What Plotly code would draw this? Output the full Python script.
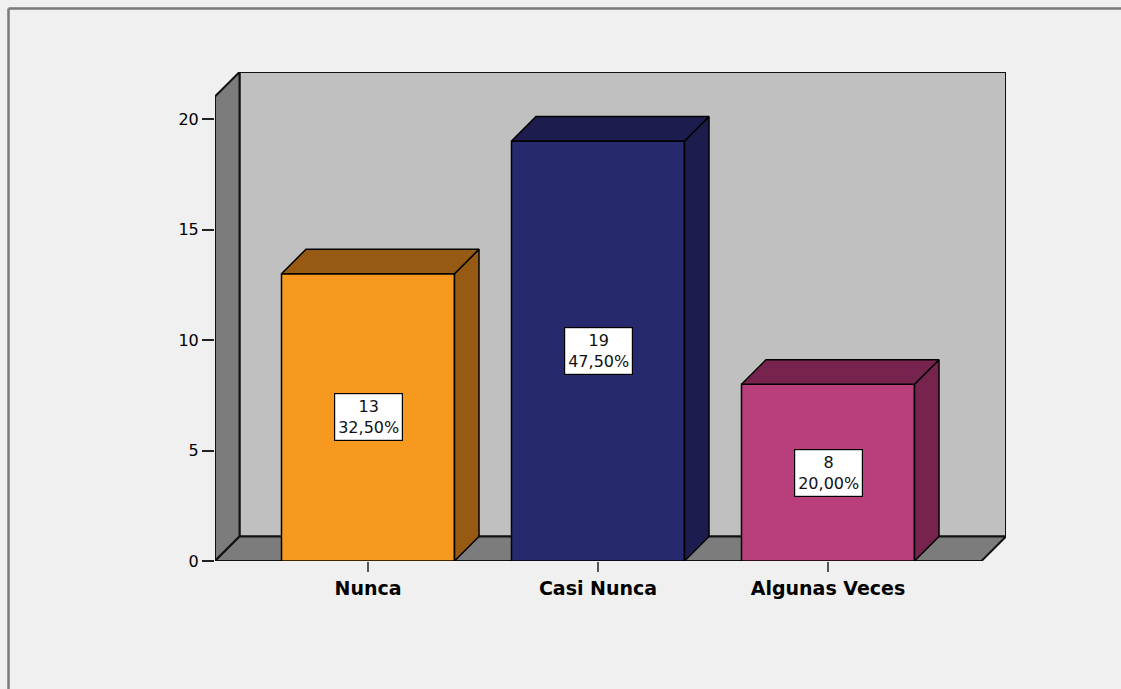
import plotly.graph_objects as go

# ---- data ----
categories = ["Nunca", "Casi Nunca", "Algunas Veces"]
counts = [13, 19, 8]
percents = ["32,50%", "47,50%", "20,00%"]
y_ticks = [0, 5, 10, 15, 20]

front_colors = ["#F8991F", "#27296F", "#B93E7C"]
side_colors = ["#965A12", "#1C1D4E", "#76244D"]

# ---- layout geometry ----
W, H = 1121, 689
ml, mr, mt, mb = 215, 115, 72, 128
pw, ph = W - ml - mr, H - mt - mb
px_per_cat = 230.0
px_per_unit = 22.1
x0 = -(368 - ml) / px_per_cat
x1 = x0 + pw / px_per_cat
y1 = ph / px_per_unit
depth_px = 24.5
dx = depth_px / px_per_cat
dy = depth_px / px_per_unit
bw = 173 / px_per_cat

xs = list(range(len(categories)))

fig = go.Figure()

# front faces
fig.add_trace(go.Bar(
    x=xs, y=counts, width=bw,
    marker=dict(color=front_colors, line=dict(color="black", width=1.5)),
    hoverinfo="skip", showlegend=False,
))

# side and top faces
for i, v in enumerate(counts):
    l, r = i - bw / 2, i + bw / 2
    fig.add_trace(go.Scatter(
        x=[r, r + dx, r + dx, r, r], y=[0, dy, v + dy, v, 0],
        mode="lines", fill="toself", fillcolor=side_colors[i],
        line=dict(color="black", width=1.5), hoverinfo="skip", showlegend=False))
    fig.add_trace(go.Scatter(
        x=[l, l + dx, r + dx, r, l], y=[v, v + dy, v + dy, v, v],
        mode="lines", fill="toself", fillcolor=side_colors[i],
        line=dict(color="black", width=1.5), hoverinfo="skip", showlegend=False))

# walls
wall_line = dict(color="#111111", width=2)
shapes = [
    dict(type="rect", xref="x", yref="y", x0=x0 + dx, x1=x1, y0=dy, y1=y1,
         fillcolor="#C0C0C0", line=wall_line, layer="below"),
    dict(type="path", xref="x", yref="y",
         path=f"M {x0},0 L {x0},{y1 - dy} L {x0 + dx},{y1} L {x0 + dx},{dy} Z",
         fillcolor="#7C7C7C", line=wall_line, layer="below"),
    dict(type="path", xref="x", yref="y",
         path=f"M {x0},0 L {x0 + dx},{dy} L {x1},{dy} L {x1 - dx},0 Z",
         fillcolor="#7C7C7C", line=wall_line, layer="below"),
    # outer frame (left and top)
    dict(type="line", xref="paper", yref="paper",
         x0=(8.5 - ml) / pw, x1=(8.5 - ml) / pw, y0=(H - mb - 8.5) / ph, y1=-(mb + 5) / ph,
         line=dict(color="#7A7A7A", width=2.5)),
    dict(type="line", xref="paper", yref="paper",
         x0=(8.5 - ml) / pw, x1=(W + 5 - ml) / pw, y0=(H - mb - 8.5) / ph, y1=(H - mb - 8.5) / ph,
         line=dict(color="#7A7A7A", width=2.5)),
]

annotations = []
for i, v in enumerate(counts):
    annotations.append(dict(
        x=i, y=v / 2, xref="x", yref="y",
        text=f"{v}<br>{percents[i]}", showarrow=False,
        font=dict(family="DejaVu Sans", size=16, color="#111111"),
        bgcolor="white", bordercolor="black", borderwidth=1.2, borderpad=3,
    ))

fig.update_layout(
    width=W, height=H,
    margin=dict(l=ml, r=mr, t=mt, b=mb, pad=0),
    paper_bgcolor="#F0F0F0", plot_bgcolor="rgba(0,0,0,0)",
    shapes=shapes, annotations=annotations,
    showlegend=False,
    xaxis=dict(range=[x0, x1], tickvals=xs, ticktext=categories,
               showgrid=False, zeroline=False, showline=False,
               ticks="outside", ticklen=10, tickwidth=2, tickcolor="#555555",
               tickfont=dict(family="DejaVu Sans", size=19, color="black", weight="bold"),
               fixedrange=True),
    yaxis=dict(range=[0, y1], tickvals=y_ticks,
               showgrid=False, zeroline=False, showline=False,
               ticks="outside", ticklen=12, tickwidth=1.5, tickcolor="#222222",
               tickfont=dict(family="DejaVu Sans", size=16, color="black"),
               fixedrange=True),
)

fig.write_html("out.html")
